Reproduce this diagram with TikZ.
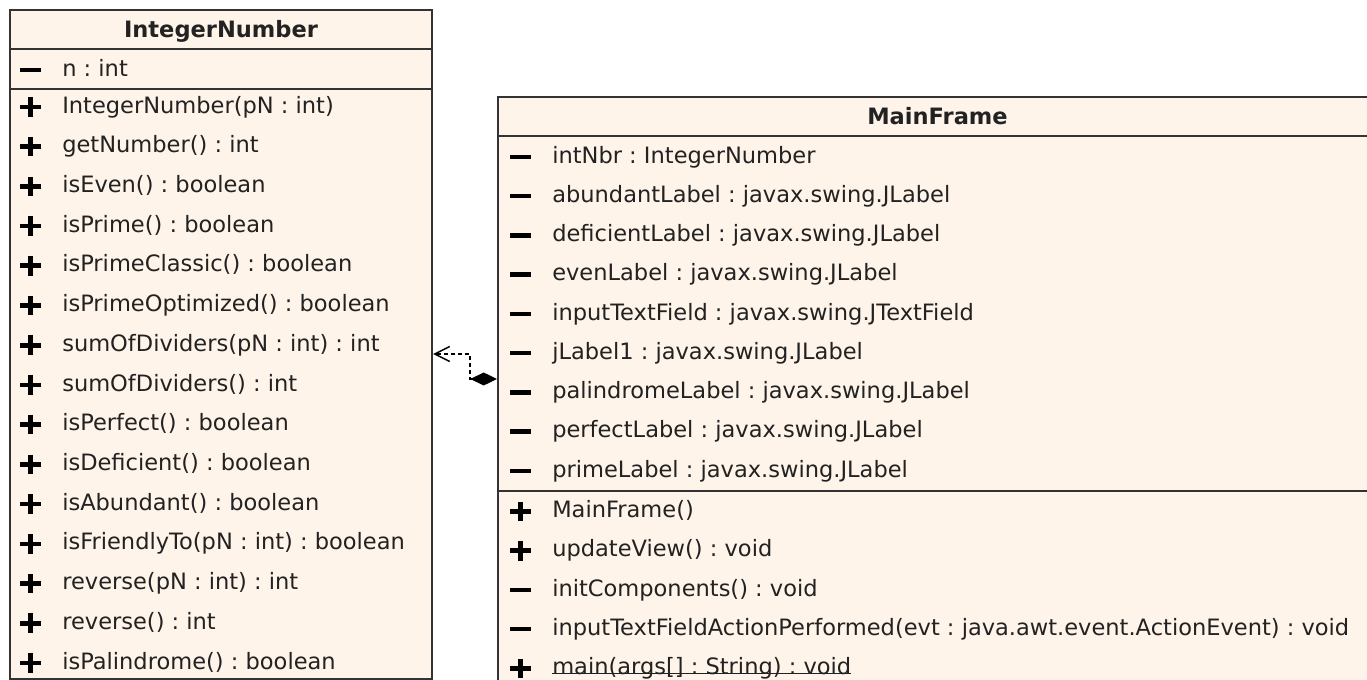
\documentclass[tikz,border=0pt]{standalone}
\usepackage{fontspec}
\setmainfont{DejaVu Sans}
\usetikzlibrary{arrows.meta,fit}
\frenchspacing

\definecolor{classfill}{RGB}{255,244,233}
\definecolor{classline}{RGB}{51,51,51}
\definecolor{membertext}{RGB}{34,34,34}

\tikzset{
  classbox/.style={draw=classline, line width=1.5pt, fill=classfill, inner sep=0pt},
  sepline/.style={draw=classline, line width=1.5pt},
  classname/.style={font=\fontsize{16.9}{20}\selectfont\bfseries, text=membertext, inner sep=0pt, text height=12.3pt, text depth=0pt},
  member/.style={anchor=west, font=\fontsize{16.9}{20}\selectfont, text=membertext, inner sep=0pt, text height=12.3pt, text depth=0pt},
  pub/.pic={\fill[black] (-10.5,-2.3) rectangle (10.5,2.3); \fill[black] (-2.3,-9.8) rectangle (2.3,9.8);},
  priv/.pic={\fill[black] (-10.5,-2.3) rectangle (10.5,2.3);},
  dep/.style={draw=black, line width=1.1pt, dash pattern=on 3pt off 2.25pt, {Diamond[length=20pt,width=9.75pt]}-{Straight Barb[length=11.25pt,width=11.25pt]}}
}

\begin{document}
\begin{tikzpicture}[x=0.75pt,y=0.75pt,yscale=-1,xscale=1]
\useasboundingbox (0,0) rectangle (1367,680);
% class boxes
\node[classbox, fit={(10,10) (432,679)}] (intBox) {};
\node[classbox, fit={(498,97) (1377,720)}] (mfBox) {};
\draw[sepline] (intBox.west |- 0,49) -- (intBox.east |- 0,49);
\draw[sepline] (intBox.west |- 0,89) -- (intBox.east |- 0,89);
\draw[sepline] (mfBox.west |- 0,136) -- (mfBox.east |- 0,136);
\draw[sepline] (mfBox.west |- 0,491) -- (mfBox.east |- 0,491);

% IntegerNumber
\node[classname] (inTitle) at (221,29.5) {IntegerNumber};
\pic at (30.5,70) {priv}; \node[member] (inN) at (62,68) {n : int};
\pic at (30.5,107) {pub}; \node[member] (inCtor) at (62,105) {IntegerNumber(pN : int)};
\pic at (30.5,146.7) {pub}; \node[member] (inGet) at (62,144.7) {getNumber() : int};
\pic at (30.5,186.4) {pub}; \node[member] (inEven) at (62,184.4) {isEven() : boolean};
\pic at (30.5,226.1) {pub}; \node[member] (inPrime) at (62,224.1) {isPrime() : boolean};
\pic at (30.5,265.8) {pub}; \node[member] (inPrimeC) at (62,263.8) {isPrimeClassic() : boolean};
\pic at (30.5,305.6) {pub}; \node[member] (inPrimeO) at (62,303.6) {isPrimeOptimized() : boolean};
\pic at (30.5,345.3) {pub}; \node[member] (inSumA) at (62,343.3) {sumOfDividers(pN : int) : int};
\pic at (30.5,385) {pub}; \node[member] (inSumB) at (62,383) {sumOfDividers() : int};
\pic at (30.5,424.7) {pub}; \node[member] (inPerf) at (62,422.7) {isPerfect() : boolean};
\pic at (30.5,464.4) {pub}; \node[member] (inDef) at (62,462.4) {isDeficient() : boolean};
\pic at (30.5,504.1) {pub}; \node[member] (inAbun) at (62,502.1) {isAbundant() : boolean};
\pic at (30.5,543.8) {pub}; \node[member] (inFriend) at (62,541.8) {isFriendlyTo(pN : int) : boolean};
\pic at (30.5,583.5) {pub}; \node[member] (inRevA) at (62,581.5) {reverse(pN : int) : int};
\pic at (30.5,623.2) {pub}; \node[member] (inRevB) at (62,621.2) {reverse() : int};
\pic at (30.5,663) {pub}; \node[member] (inPal) at (62,661) {isPalindrome() : boolean};

% MainFrame
\node[classname] (mfTitle) at (937.5,116) {MainFrame};
\pic at (520.5,157) {priv}; \node[member] (mfNbr) at (552,155) {intNbr : IntegerNumber};
\pic at (520.5,196.2) {priv}; \node[member] (mfAbun) at (552,194.2) {abundantLabel : javax.swing.JLabel};
\pic at (520.5,235.5) {priv}; \node[member] (mfDef) at (552,233.5) {deficientLabel : javax.swing.JLabel};
\pic at (520.5,274.7) {priv}; \node[member] (mfEven) at (552,272.7) {evenLabel : javax.swing.JLabel};
\pic at (520.5,314) {priv}; \node[member] (mfInput) at (552,312) {inputTextField : javax.swing.JTextField};
\pic at (520.5,353.2) {priv}; \node[member] (mfJl) at (552,351.2) {jLabel1 : javax.swing.JLabel};
\pic at (520.5,392.5) {priv}; \node[member] (mfPal) at (552,390.5) {palindromeLabel : javax.swing.JLabel};
\pic at (520.5,431.7) {priv}; \node[member] (mfPerf) at (552,429.7) {perfectLabel : javax.swing.JLabel};
\pic at (520.5,471) {priv}; \node[member] (mfPrime) at (552,469) {primeLabel : javax.swing.JLabel};
\pic at (520.5,511.5) {pub}; \node[member] (mfCtor) at (552,509.5) {MainFrame()};
\pic at (520.5,550.7) {pub}; \node[member] (mfUpd) at (552,548.7) {updateView() : void};
\pic at (520.5,589.9) {priv}; \node[member] (mfInit) at (552,587.9) {initComponents() : void};
\pic at (520.5,629.1) {priv}; \node[member] (mfAct) at (552,627.1) {inputTextFieldActionPerformed(evt : java.awt.event.ActionEvent) : void};
\pic at (520.5,668.3) {pub}; \node[member] (mfMain) at (552,666.3) {main(args[] : String) : void};
\draw[membertext, line width=1.2pt] ([yshift=-1pt]mfMain.south west) -- ([yshift=-1pt]mfMain.south east);

% dependency
\coordinate (bend) at (470,379);
\draw[dep] (mfBox.west |- bend) -- (bend) |- (intBox.east |- 0,354);
\end{tikzpicture}
\end{document}
